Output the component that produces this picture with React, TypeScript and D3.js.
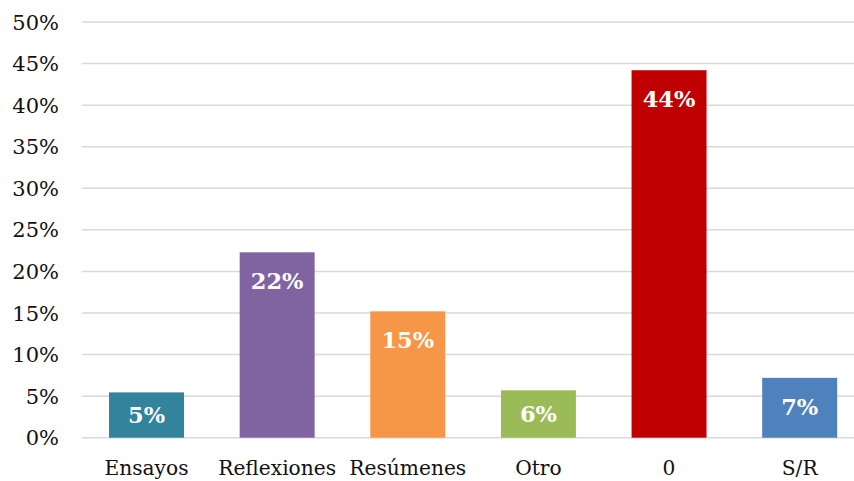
import React from "react";
import * as d3 from "d3";

const categories = ["Ensayos", "Reflexiones", "Resúmenes", "Otro", "0", "S/R"];
const values = [5.45, 22.3, 15.2, 5.7, 44.2, 7.2];
const labels = ["5%", "22%", "15%", "6%", "44%", "7%"];
const colors = ["#31849B", "#8064A2", "#F79646", "#9BBB59", "#C00000", "#4F81BD"];
const yTicks = [0, 5, 10, 15, 20, 25, 30, 35, 40, 45, 50];

const W = 854;
const H = 481;
const FONT = "'DejaVu Serif', 'Liberation Serif', serif";

export default function App() {
  const x = d3.scaleBand<string>().domain(categories).range([81.2, 865]).paddingInner(0.426).paddingOuter(0.213);
  const y = d3.scaleLinear().domain([0, 50]).range([437.7, 22]);
  const bottom = y(0);
  return (
    <svg width={W} height={H} style={{ position: "absolute", left: 0, top: 0, background: "#fff" }}>
      {yTicks.map((t) => (
        <g key={t}>
          <line x1={82} x2={W} y1={y(t)} y2={y(t)} stroke="#d9d9d9" strokeWidth={1.5} />
          <text x={59} y={y(t)} dy="0.36em" textAnchor="end" fontFamily={FONT} fontSize={21} fill="#111">
            {t}%
          </text>
        </g>
      ))}
      {categories.map((c, i) => {
        const top = y(values[i]);
        const cx = (x(c) as number) + x.bandwidth() / 2;
        const ly = Math.min(top + 29, (top + bottom) / 2);
        return (
          <g key={c}>
            <rect x={x(c)} y={top} width={x.bandwidth()} height={bottom - top} fill={colors[i]} />
            <text x={cx} y={ly} dy="0.36em" textAnchor="middle" fontFamily={FONT} fontWeight="bold" fontSize={22.5} fill="#fff">
              {labels[i]}
            </text>
            <text x={cx} y={468} dy="0.36em" textAnchor="middle" fontFamily={FONT} fontSize={20.2} fill="#111">
              {c}
            </text>
          </g>
        );
      })}
    </svg>
  );
}
